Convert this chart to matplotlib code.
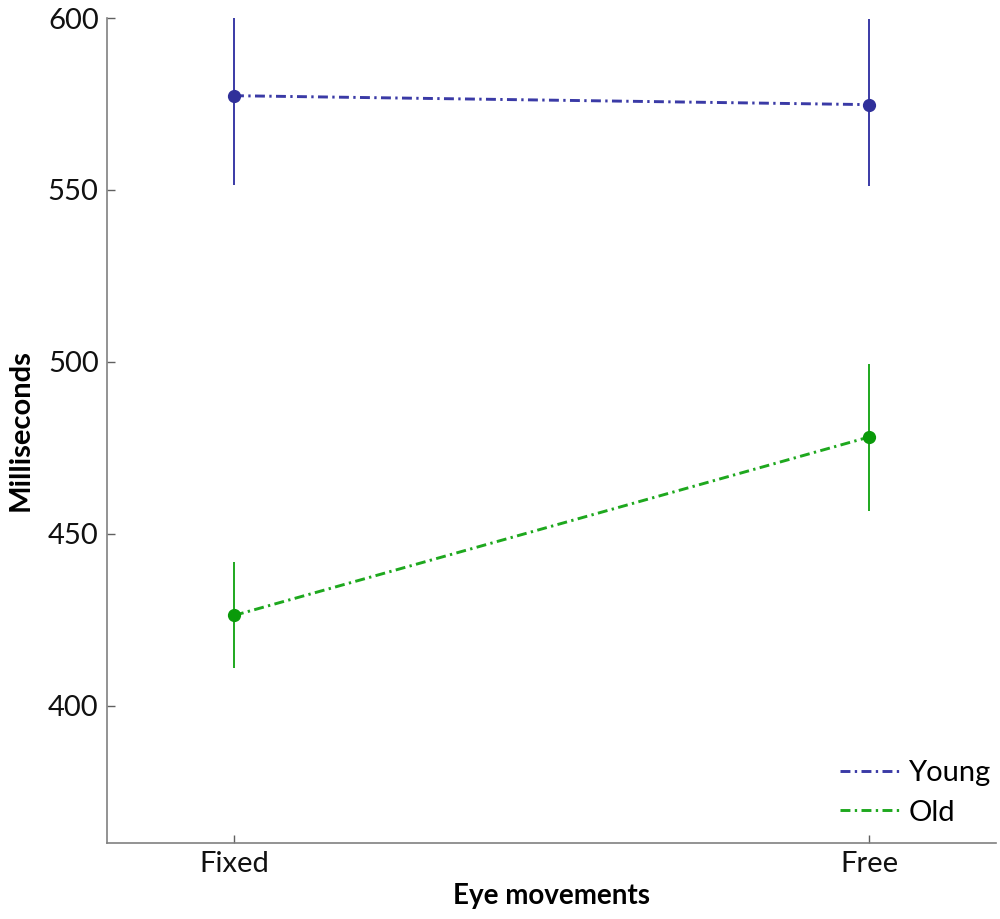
import matplotlib
matplotlib.use("Agg")
import matplotlib.pyplot as plt
import numpy as np

categories = ["Fixed", "Free"]
young_mean = [577.4, 574.8]
young_lo = [551.4, 551.1]
young_hi = [603.0, 599.8]
old_mean = [426.2, 478.1]
old_lo = [410.9, 456.7]
old_hi = [441.8, 499.4]
yticks = [400, 450, 500, 550, 600]

plt.rcParams['font.family'] = ['Lato', 'DejaVu Sans']

fig = plt.figure(figsize=(10, 9.19), dpi=100)
ax = fig.add_axes([0.107, 0.0827, 0.889, 0.8977])

x = np.arange(1, len(categories) + 1)
blue = '#3a3aa6'
green = '#1ea81e'
ls = (0, (3.4, 1.5, 0.8, 1.5))

def plot_series(mean, lo, hi, color, mcolor, label):
    mean = np.array(mean); lo = np.array(lo); hi = np.array(hi)
    ax.errorbar(x, mean, yerr=[mean - lo, hi - mean], fmt='none',
                ecolor=color, elinewidth=1.4, capsize=0, zorder=2)
    ax.plot(x, mean, linestyle=ls, color=color, lw=2.1, label=label, zorder=3)
    ax.plot(x, mean, 'o', color=mcolor, ms=8.5, zorder=4)

plot_series(young_mean, young_lo, young_hi, blue, '#30309a', 'Young')
plot_series(old_mean, old_lo, old_hi, green, '#0a9a0a', 'Old')

ax.set_xlim(0.8, 2.2)
ax.set_ylim(360, 600)
ax.set_yticks(yticks)
ax.set_xticks(x)
ax.set_xticklabels(categories)

for s in ['top', 'right']:
    ax.spines[s].set_visible(False)
for s in ['left', 'bottom']:
    ax.spines[s].set_color('#808080')
    ax.spines[s].set_linewidth(1.2)

ax.tick_params(axis='both', direction='in', length=6, width=1, color='#606060',
               labelsize=21, labelcolor='#111111', pad=6)

ax.set_ylabel('Milliseconds', fontsize=21, fontweight='bold', labelpad=10)
ax.set_xlabel('Eye movements', fontsize=20, fontweight='bold', labelpad=4)

leg = ax.legend(loc='lower right', frameon=False, fontsize=21, handlelength=2.1,
                handletextpad=0.25, labelspacing=0.45, borderaxespad=0.0,
                bbox_to_anchor=(1.007, 0.007))

fig.savefig('out.png', dpi=100)
